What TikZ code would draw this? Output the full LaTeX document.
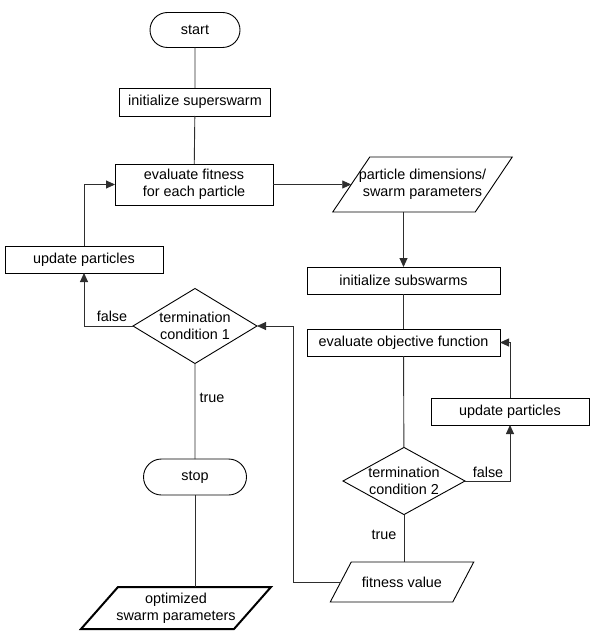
\documentclass[tikz,border=0pt]{standalone}
\usepackage{fontspec}
\setmainfont{Liberation Sans}
\usetikzlibrary{arrows.meta,shapes.geometric,shapes.misc}
\definecolor{ink}{HTML}{000000}
\definecolor{wireink}{HTML}{2E2E2E}
\tikzset{
  label/.style={font=\fontsize{14.4bp}{17bp}\selectfont,text=ink,align=center},
  terminal/.style={label,rounded rectangle,draw=ink,line width=0.9bp},
  process/.style={label,rectangle,draw=ink,line width=0.9bp},
  decision/.style={label,diamond,draw=ink,line width=0.9bp},
  iotext/.style={label,rectangle},
  iobox/.style={draw=ink,line width=0.9bp,line join=miter},
  wire/.style={draw=wireink,line width=0.9bp},
  arrow/.style={wire,-{Triangle[length=9bp,width=8bp]}}
}
\begin{document}
\begin{tikzpicture}[x=1bp,y=-1bp,every node/.style={inner sep=0pt,outer sep=0pt}]
\path[use as bounding box] (0,0) rectangle (600,641);

% left column: superswarm
\node[terminal,minimum width=90bp,minimum height=35bp] (start) at (195,30) {start};
\node[process,minimum width=151bp,minimum height=28bp] (init-super) at (195,102) {initialize superswarm};
\node[process,minimum width=158bp,minimum height=41bp] (eval-fit) at (194,184.5) {evaluate fitness\\for each particle};
\node[process,minimum width=158bp,minimum height=27bp] (upd-left) at (84,259.5) {update particles};
\node[decision,minimum width=124bp,minimum height=75bp,aspect=1.65] (cond-1) at (195,326) {termination\\condition 1};
\node[terminal,minimum width=103bp,minimum height=36bp] (stop) at (195,477) {stop};
\node[iotext,minimum width=153bp,minimum height=42bp] (optimized) at (176,608) {optimized\\swarm parameters};
\draw[iobox,line width=2bp] ([xshift=18.5bp]optimized.north west) -- ([xshift=18.5bp]optimized.north east)
  -- ([xshift=-18.5bp]optimized.south east) -- ([xshift=-18.5bp]optimized.south west) -- cycle;

% right column: subswarms
\node[iotext,minimum width=142.5bp,minimum height=55bp] (params) at (422.5,184.5) {particle dimensions/\\swarm parameters};
\draw[iobox] ([xshift=18.5bp]params.north west) -- ([xshift=18.5bp]params.north east)
  -- ([xshift=-18.5bp]params.south east) -- ([xshift=-18.5bp]params.south west) -- cycle;
\node[process,minimum width=193bp,minimum height=27bp] (init-sub) at (403.5,280.5) {initialize subswarms};
\node[process,minimum width=193bp,minimum height=27bp] (eval-obj) at (403.5,342.5) {evaluate objective function};
\node[process,minimum width=158bp,minimum height=27bp] (upd-right) at (510,411.5) {update particles};
\node[decision,minimum width=122bp,minimum height=67bp,aspect=1.8] (cond-2) at (404,481) {termination\\condition 2};
\node[iotext,minimum width=122.5bp,minimum height=40bp] (fit-val) at (402,582) {fitness value};
\draw[iobox] ([xshift=10.5bp]fit-val.north west) -- ([xshift=10.5bp]fit-val.north east)
  -- ([xshift=-10.5bp]fit-val.south east) -- ([xshift=-10.5bp]fit-val.south west) -- cycle;
\coordinate (return) at (293,582);

% connectors
\draw[wire] (start) -- (init-super);
\draw[wire] (init-super) -- (eval-fit);
\draw[arrow] (eval-fit.east) -- (params.west);
\draw[arrow] (init-sub.north |- params.south) -- (init-sub.north);
\draw[wire] (init-sub) -- (eval-obj);
\draw[wire] (eval-obj) -- (cond-2);
\draw[arrow] (cond-2.east) -- (upd-right.south |- cond-2.east) -- (upd-right.south);
\draw[arrow] (upd-right.north) |- (eval-obj.east);
\draw[wire] (cond-2.south) -- (cond-2.south |- fit-val.north);
\draw[arrow] (fit-val.west) -- (return) |- (cond-1.east);
\draw[arrow] (cond-1.west) -| (upd-left.south);
\draw[arrow] (upd-left.north) |- (eval-fit.west);
\draw[wire] (cond-1) -- (stop);
\draw[wire] (stop.south) -- (stop.south |- optimized.north);

\node[label] (false-1) at (112,316) {false};
\node[label] (true-1) at (212,398) {true};
\node[label] (false-2) at (488,472) {false};
\node[label] (true-2) at (384,535) {true};
\end{tikzpicture}
\end{document}
